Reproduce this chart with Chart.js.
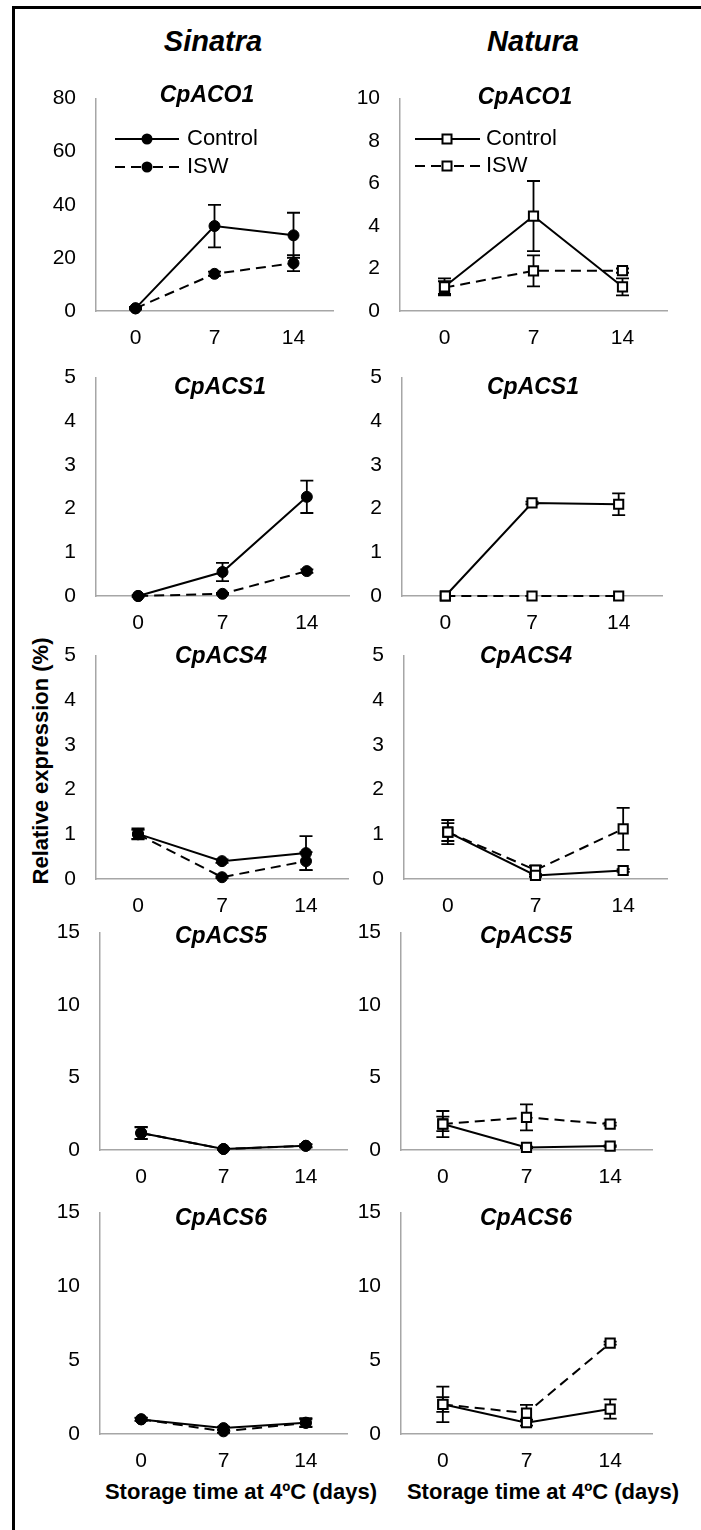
<!DOCTYPE html>
<html>
<head>
    <meta charset="utf-8" />
    <title>Relative expression Sinatra / Natura</title>
    <style>
        body {
            margin: 0;
            width: 701px;
            height: 1530px;
            overflow: hidden;
            position: relative;
            background: #fff;
            font-family: "Liberation Sans", Arial, sans-serif;
            color: #000;
        }

        #frame {
            position: absolute;
            left: 12px;
            top: 6px;
            width: 740px;
            height: 1580px;
            border: 3px solid #000;
            box-sizing: border-box;
        }

        .lbl {
            position: absolute;
            white-space: nowrap;
            line-height: 1;
            transform: translate(-50%, -50%);
        }

        .col { font-size: 29px; font-weight: bold; font-style: italic; }
        .xt { font-size: 22px; font-weight: bold; }
        .yt { font-size: 22px; font-weight: bold; transform: translate(-50%, -50%) rotate(-90deg); }

        canvas { position: absolute; }
    </style>
</head>

<body>
    <div id="frame"></div>
    <div class="lbl col" style="left:213px;top:41px">Sinatra</div>
    <div class="lbl col" style="left:533px;top:41px">Natura</div>
    <div class="lbl yt" style="left:41px;top:761px">Relative expression (%)</div>
    <div class="lbl xt" style="left:241px;top:1492px">Storage time at 4ºC (days)</div>
    <div class="lbl xt" style="left:543px;top:1492px">Storage time at 4ºC (days)</div>
</body>

</html>

<script src="https://cdn.jsdelivr.net/npm/chart.js@4.4.1/dist/chart.umd.min.js"></script>
<script>

    //:: data
    var days = ['0', '7', '14'];

    var ticks80 = [0, 20, 40, 60, 80];
    var ticks10 = [0, 2, 4, 6, 8, 10];
    var ticks5 = [0, 1, 2, 3, 4, 5];
    var ticks15 = [0, 5, 10, 15];

    // Sinatra
    var sinAco1Control = [1, 32, 28.5];
    var sinAco1ControlErr = [0.5, 8, 8.5];
    var sinAco1Isw = [1, 14, 18];
    var sinAco1IswErr = [0.3, 0.8, 3];

    var sinAcs1Control = [0, 0.55, 2.27];
    var sinAcs1ControlErr = [0.02, 0.21, 0.37];
    var sinAcs1Isw = [0, 0.05, 0.57];
    var sinAcs1IswErr = [0, 0.02, 0.04];

    var sinAcs4Control = [1.01, 0.4, 0.58];
    var sinAcs4ControlErr = [0.12, 0.04, 0.38];
    var sinAcs4Isw = [1.0, 0.04, 0.4];
    var sinAcs4IswErr = [0.1, 0.02, 0.2];

    var sinAcs5Control = [1.17, 0.07, 0.29];
    var sinAcs5ControlErr = [0.42, 0.05, 0.1];
    var sinAcs5Isw = [1.17, 0.07, 0.29];
    var sinAcs5IswErr = [0.4, 0.05, 0.1];

    var sinAcs6Control = [0.99, 0.4, 0.77];
    var sinAcs6ControlErr = [0.1, 0.1, 0.3];
    var sinAcs6Isw = [1.0, 0.18, 0.75];
    var sinAcs6IswErr = [0.1, 0.1, 0.25];

    // Natura
    var natAco1Control = [1.14, 4.47, 1.14];
    var natAco1ControlErr = [0.4, 1.65, 0.4];
    var natAco1Isw = [1.1, 1.89, 1.9];
    var natAco1IswErr = [0.3, 0.73, 0.1];

    var natAcs1Control = [0, 2.13, 2.1];
    var natAcs1ControlErr = [0, 0.03, 0.25];
    var natAcs1Isw = [0, 0, 0];
    var natAcs1IswErr = [0, 0, 0];

    var natAcs4Control = [1.05, 0.08, 0.19];
    var natAcs4ControlErr = [0.27, 0.03, 0.03];
    var natAcs4Isw = [1.05, 0.2, 1.12];
    var natAcs4IswErr = [0.2, 0.1, 0.47];

    var natAcs5Control = [1.79, 0.18, 0.27];
    var natAcs5ControlErr = [0.9, 0.05, 0.05];
    var natAcs5Isw = [1.8, 2.25, 1.79];
    var natAcs5IswErr = [0.5, 0.9, 0.1];

    var natAcs6Control = [2.01, 0.77, 1.69];
    var natAcs6ControlErr = [1.2, 0.2, 0.65];
    var natAcs6Isw = [2.0, 1.42, 6.16];
    var natAcs6IswErr = [0.5, 0.55, 0.1];

    //:: layout (page px): box = [left, top, width, height] of the plot area
    var legendSin = { x1: 115, x2: 179, mx: 147, tx: 187, rows: [139, 167] };
    var legendNat = { x1: 415, x2: 480, mx: 447, tx: 486, rows: [139, 166] };

    var panels = [
        { gene: 'CpACO1', mk: 'circle', ticks: ticks80, c: sinAco1Control, ce: sinAco1ControlErr, s: sinAco1Isw, se: sinAco1IswErr, box: [96, 90, 237, 221], title: [207, 96], legend: legendSin },
        { gene: 'CpACS1', mk: 'circle', ticks: ticks5, c: sinAcs1Control, ce: sinAcs1ControlErr, s: sinAcs1Isw, se: sinAcs1IswErr, box: [96, 369, 253, 227], title: [220, 388] },
        { gene: 'CpACS4', mk: 'circle', ticks: ticks5, c: sinAcs4Control, ce: sinAcs4ControlErr, s: sinAcs4Isw, se: sinAcs4IswErr, box: [96, 647, 252, 232], title: [221, 657] },
        { gene: 'CpACS5', mk: 'circle', ticks: ticks15, c: sinAcs5Control, ce: sinAcs5ControlErr, s: sinAcs5Isw, se: sinAcs5IswErr, box: [100, 924, 247, 226], title: [221, 937] },
        { gene: 'CpACS6', mk: 'circle', ticks: ticks15, c: sinAcs6Control, ce: sinAcs6ControlErr, s: sinAcs6Isw, se: sinAcs6IswErr, box: [100, 1204, 247, 230], title: [221, 1219] },
        { gene: 'CpACO1', mk: 'rect', ticks: ticks10, c: natAco1Control, ce: natAco1ControlErr, s: natAco1Isw, se: natAco1IswErr, box: [400, 90, 267, 221], title: [525, 98], legend: legendNat },
        { gene: 'CpACS1', mk: 'rect', ticks: ticks5, c: natAcs1Control, ce: natAcs1ControlErr, s: natAcs1Isw, se: natAcs1IswErr, box: [402, 369, 260, 227], title: [533, 388] },
        { gene: 'CpACS4', mk: 'rect', ticks: ticks5, c: natAcs4Control, ce: natAcs4ControlErr, s: natAcs4Isw, se: natAcs4IswErr, box: [404, 647, 263, 232], title: [526, 657] },
        { gene: 'CpACS5', mk: 'rect', ticks: ticks15, c: natAcs5Control, ce: natAcs5ControlErr, s: natAcs5Isw, se: natAcs5IswErr, box: [401, 924, 251, 226], title: [526, 937] },
        { gene: 'CpACS6', mk: 'rect', ticks: ticks15, c: natAcs6Control, ce: natAcs6ControlErr, s: natAcs6Isw, se: natAcs6IswErr, box: [401, 1204, 251, 230], title: [526, 1219] }
    ];

    var YW = 70, XH = 46, PT = 24, PR = 14;
    var FONT = '"Liberation Sans", Arial, sans-serif';
    var DASH = [10, 6];

    Chart.defaults.font.family = FONT;
    Chart.defaults.color = '#000';

    function marker(ctx, mk, x, y) {
        ctx.save();
        ctx.setLineDash([]);
        ctx.strokeStyle = '#000';
        if (mk === 'circle') {
            ctx.fillStyle = '#000';
            ctx.beginPath();
            ctx.arc(x, y, 5.5, 0, Math.PI * 2);
            ctx.fill();
        } else {
            ctx.fillStyle = '#fff';
            ctx.lineWidth = 2;
            ctx.fillRect(x - 4.5, y - 4.5, 9, 9);
            ctx.strokeRect(x - 4.5, y - 4.5, 9, 9);
        }
        ctx.restore();
    }

    // error bars, drawn under the markers
    var errorBars = {
        id: 'errorBars',
        beforeDatasetsDraw: function (chart) {
            var ctx = chart.ctx, ys = chart.scales.y;
            chart.data.datasets.forEach(function (ds, di) {
                var meta = chart.getDatasetMeta(di);
                ctx.save();
                ctx.strokeStyle = '#000';
                ctx.lineWidth = 1.8;
                meta.data.forEach(function (pt, k) {
                    var e = ds.errors[k];
                    if (!e) return;
                    var yt = ys.getPixelForValue(ds.data[k] + e);
                    var yb = ys.getPixelForValue(ds.data[k] - e);
                    ctx.beginPath();
                    ctx.moveTo(pt.x, yt); ctx.lineTo(pt.x, yb);
                    ctx.moveTo(pt.x - 6.5, yt); ctx.lineTo(pt.x + 6.5, yt);
                    ctx.moveTo(pt.x - 6.5, yb); ctx.lineTo(pt.x + 6.5, yb);
                    ctx.stroke();
                });
                ctx.restore();
            });
        }
    };

    // gene title inside the plot + optional legend
    var panelText = {
        id: 'panelText',
        afterDraw: function (chart, args, opts) {
            var ctx = chart.ctx;
            ctx.save();
            ctx.fillStyle = '#000';
            ctx.textAlign = 'center';
            ctx.textBaseline = 'middle';
            ctx.font = 'italic bold 23px ' + FONT;
            ctx.fillText(opts.gene, opts.title[0] - opts.ox, opts.title[1] - opts.oy);

            var lg = opts.legend;
            if (lg) {
                chart.data.datasets.forEach(function (ds, i) {
                    var y = lg.rows[i] - opts.oy;
                    var x1 = lg.x1 - opts.ox, x2 = lg.x2 - opts.ox, mx = lg.mx - opts.ox;
                    ctx.strokeStyle = '#000';
                    ctx.lineWidth = 2;
                    ctx.setLineDash(ds.borderDash || []);
                    ctx.beginPath(); ctx.moveTo(x1, y); ctx.lineTo(mx, y); ctx.stroke();
                    ctx.beginPath(); ctx.moveTo(x2, y); ctx.lineTo(mx, y); ctx.stroke();
                    ctx.setLineDash([]);
                    marker(ctx, opts.mk, mx, y);
                    ctx.textAlign = 'left';
                    ctx.font = '22px ' + FONT;
                    ctx.fillText(ds.label, lg.tx - opts.ox, y);
                });
            }
            ctx.restore();
        }
    };

    function makeSet(label, data, errs, mk, dash) {
        return {
            label: label,
            data: data,
            errors: errs,
            borderColor: '#000',
            borderWidth: 2,
            borderDash: dash,
            tension: 0,
            fill: false,
            clip: false,
            pointStyle: mk,
            pointRadius: mk === 'circle' ? 5.5 : 6.5,
            pointBorderWidth: mk === 'circle' ? 1 : 2,
            pointBorderColor: '#000',
            pointBackgroundColor: mk === 'circle' ? '#000' : '#fff'
        };
    }

    panels.forEach(function (p) {
        var cv = document.createElement('canvas');
        var left = p.box[0] - YW, top = p.box[1] - PT;
        cv.width = YW + p.box[2] + PR;
        cv.height = PT + p.box[3] + XH;
        cv.style.left = left + 'px';
        cv.style.top = top + 'px';
        document.body.appendChild(cv);

        var tk = p.ticks;

        new Chart(cv.getContext('2d'), {
            type: 'line',
            data: {
                labels: days,
                datasets: [
                    makeSet('Control', p.c, p.ce, p.mk, []),
                    makeSet('ISW', p.s, p.se, p.mk, DASH)
                ]
            },
            options: {
                responsive: false,
                animation: false,
                layout: { padding: { top: PT, right: PR, left: 0, bottom: 0 } },
                plugins: {
                    legend: { display: false },
                    tooltip: { enabled: false },
                    panelText: { gene: p.gene, title: p.title, legend: p.legend, mk: p.mk, ox: left, oy: top }
                },
                scales: {
                    x: {
                        offset: true,
                        grid: { display: false, drawTicks: false },
                        border: { display: true, color: '#a6a6a6', width: 1.5 },
                        ticks: { font: { size: 21 }, padding: 15, color: '#000' },
                        afterFit: function (s) { s.height = XH; }
                    },
                    y: {
                        min: tk[0],
                        max: tk[tk.length - 1],
                        grid: { display: false, drawTicks: false },
                        border: { display: true, color: '#a6a6a6', width: 1.5 },
                        ticks: { font: { size: 21 }, padding: 20, color: '#000' },
                        afterBuildTicks: function (s) {
                            s.ticks = tk.map(function (v) { return { value: v }; });
                        },
                        afterFit: function (s) { s.width = YW; }
                    }
                }
            },
            plugins: [errorBars, panelText]
        });
    });
</script>
